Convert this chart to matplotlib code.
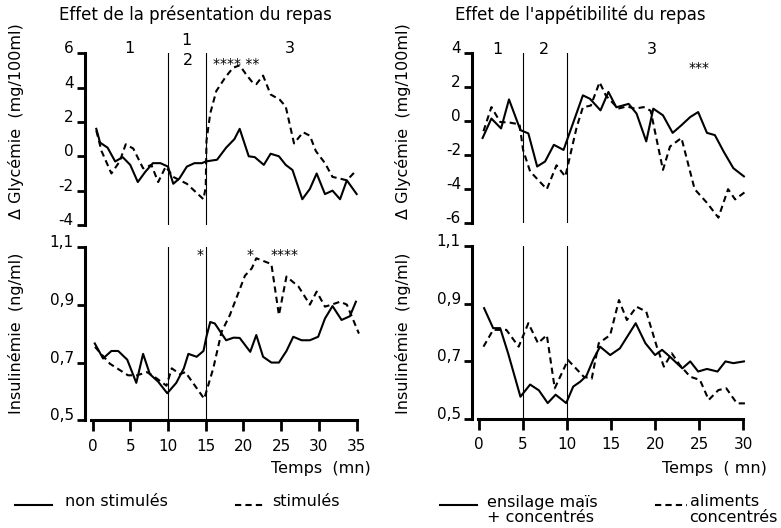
import matplotlib
matplotlib.use("Agg")
import matplotlib.pyplot as plt
from matplotlib.lines import Line2D

plt.rcParams['font.family'] = ['DejaVu Sans']

# ---- effet de la presentation du repas : glycemie ----
t_gly_ns = [0.5, 1, 2, 3, 4, 5, 6, 7, 8, 9, 10, 10.7, 11.5, 12.5, 13.5, 14.5, 15,
            16.5, 17.7, 18.8, 19.5, 20.7, 21.5, 22.7, 23.6, 24.7, 25.6, 26.5,
            27.8, 28.8, 29.7, 30.8, 31.8, 32.8, 33.7, 35]
gly_ns = [1.6, 0.8, 0.5, -0.3, -0.05, -0.5, -1.5, -0.9, -0.4, -0.4, -0.6, -1.6, -1.3,
          -0.6, -0.4, -0.4, -0.3, -0.2, 0.5, 1.0, 1.6, 0.0, -0.05, -0.5, 0.15, 0.0,
          -0.5, -0.8, -2.5, -1.9, -1.0, -2.2, -2.0, -2.5, -1.4, -2.2]
t_gly_st = [0.5, 1.2, 2.5, 3.6, 4.4, 5.4, 6.7, 7.8, 8.7, 9.7, 10.7, 12.5, 14.7, 15.0,
            15.1, 15.6, 16.4, 17.6, 18.6, 19.5, 20.3, 21.2, 21.7, 22.6, 23.6, 24.8,
            25.6, 26.7, 27.9, 28.8, 29.6, 30.8, 31.8, 32.8, 33.7, 35]
gly_st = [1.5, 0.3, -1.0, -0.3, 0.7, 0.45, -0.7, -0.5, -1.5, -0.6, -1.2, -1.6, -2.5,
          -1.8, 0.9, 2.5, 3.8, 4.6, 5.15, 5.3, 4.8, 4.3, 4.2, 4.7, 3.6, 3.3, 2.9,
          0.75, 1.4, 1.2, 0.3, -0.4, -1.2, -1.3, -1.4, -0.8]

# ---- effet de la presentation du repas : insulinemie ----
t_ins_ns = [0.3, 1.4, 2.5, 3.4, 4.6, 5.8, 6.7, 7.6, 8.7, 9.9, 11.1, 12.1, 12.7, 13.8,
            14.7, 15.1, 15.6, 16.2, 17.7, 18.7, 19.5, 20.9, 21.7, 22.6, 23.7, 24.7,
            25.7, 26.6, 27.7, 28.8, 29.9, 30.8, 31.8, 33.0, 34.1, 34.9]
ins_ns = [0.766, 0.714, 0.74, 0.74, 0.71, 0.63, 0.73, 0.66, 0.634, 0.594, 0.63, 0.68,
          0.73, 0.72, 0.74, 0.79, 0.84, 0.835, 0.777, 0.786, 0.785, 0.737, 0.795,
          0.72, 0.70, 0.70, 0.74, 0.789, 0.777, 0.777, 0.789, 0.852, 0.895, 0.847,
          0.86, 0.91]
t_ins_st = [0.33, 2.3, 4.7, 5.9, 7.2, 8.0, 9.8, 10.5, 11.6, 12.3, 14.8, 16.0, 17.1,
            18.2, 20.2, 21.1, 21.7, 23.7, 24.7, 25.7, 27.3, 28.8, 29.7, 30.8, 31.7,
            32.8, 33.7, 35.3]
ins_st = [0.754, 0.696, 0.656, 0.656, 0.667, 0.655, 0.62, 0.68, 0.66, 0.667, 0.575,
          0.68, 0.806, 0.864, 1.0, 1.025, 1.06, 1.04, 0.864, 0.997, 0.962, 0.90,
          0.945, 0.893, 0.90, 0.91, 0.90, 0.80]

# ---- effet de l'appetibilite du repas : glycemie ----
t_gly_ens = [0.4, 1.4, 2.5, 3.4, 4.7, 5.6, 6.6, 7.5, 8.5, 9.6, 11.8, 12.6, 13.8, 14.7,
             15.6, 17.0, 17.9, 19.0, 19.8, 20.9, 22.0, 23.0, 24.0, 24.9, 25.9, 26.8,
             27.8, 28.9, 30.1]
gly_ens = [-1.0, 0.14, -0.44, 1.26, -0.54, -0.73, -2.67, -2.38, -1.4, -1.7, 1.5, 1.3,
           0.62, 1.7, 0.8, 1.0, 0.43, -1.2, 0.72, 0.33, -0.7, -0.25, 0.23, 0.52, -0.7,
           -0.83, -1.8, -2.77, -3.25]
t_gly_ali = [0.5, 1.4, 2.4, 3.5, 4.6, 5.0, 5.8, 7.7, 8.8, 9.8, 11.1, 11.8, 12.7, 13.7,
             14.4, 15.8, 16.8, 17.7, 18.7, 19.5, 20.9, 21.7, 23.0, 24.5, 25.9, 27.2,
             28.3, 29.1, 30.4]
gly_ali = [-0.6, 0.81, -0.06, -0.1, -0.2, -1.7, -2.96, -4.0, -2.6, -3.26, -0.35, 0.8,
           0.9, 2.27, 1.5, 0.72, 0.85, 0.72, 0.81, 0.6, -2.87, -1.5, -1.0, -4.0, -4.8,
           -5.67, -4.0, -4.6, -4.1]

# ---- effet de l'appetibilite du repas : insulinemie ----
t_ins_ens = [0.57, 1.6, 2.4, 3.3, 4.7, 5.8, 6.8, 7.8, 8.7, 9.9, 10.7, 11.5, 12.2, 13.0,
             13.75, 14.9, 16.0, 17.8, 18.9, 20.0, 20.8, 21.7, 23.1, 24.0, 24.9, 25.9,
             27.1, 28.0, 28.9, 30.1]
ins_ens = [0.884, 0.815, 0.815, 0.728, 0.578, 0.62, 0.60, 0.556, 0.585, 0.556, 0.613,
           0.63, 0.65, 0.708, 0.751, 0.722, 0.745, 0.832, 0.763, 0.722, 0.74, 0.716,
           0.676, 0.70, 0.665, 0.674, 0.665, 0.70, 0.694, 0.70]
t_ins_ali = [0.5, 1.6, 3.1, 4.5, 5.6, 6.7, 7.7, 8.6, 10.1, 11.9, 12.8, 13.6, 14.9,
             15.9, 16.8, 17.9, 19.0, 20.2, 21.0, 21.9, 22.8, 24.0, 25.1, 26.1, 27.2,
             28.1, 29.3, 30.6]
ins_ali = [0.751, 0.809, 0.809, 0.751, 0.832, 0.763, 0.791, 0.607, 0.705, 0.647, 0.64,
           0.763, 0.791, 0.912, 0.843, 0.889, 0.872, 0.751, 0.682, 0.728, 0.688,
           0.647, 0.636, 0.567, 0.601, 0.607, 0.555, 0.555]

left_xticks = [0, 5, 10, 15, 20, 25, 30, 35]
right_xticks = [0, 5, 10, 15, 20, 25, 30]
gly_left_ticks = [-4, -2, 0, 2, 4, 6]
gly_right_ticks = [-6, -4, -2, 0, 2, 4]
ins_ticks = [0.5, 0.7, 0.9, 1.1]
ins_labels = ['0,5', '0,7', '0,9', '1,1']

DASH = (0, (3, 2))
FS = 11       # tick labels
TFS = 11.5    # titles / axis labels / legend


def style_axis(ax, yticks, ylabels, xticks=None, xmax=None):
    for s in ['top', 'right']:
        ax.spines[s].set_visible(False)
    ax.spines['left'].set_linewidth(2.2)
    ax.spines['left'].set_bounds(yticks[0], yticks[-1])
    ax.set_yticks(yticks)
    ax.set_yticklabels(ylabels, fontsize=FS, va='baseline')
    ax.tick_params(axis='y', length=6, width=2, pad=2)
    if xticks is None:
        ax.spines['bottom'].set_visible(False)
        ax.set_xticks([])
    else:
        ax.spines['bottom'].set_linewidth(2.2)
        ax.spines['bottom'].set_bounds(-0.15, xmax)
        ax.set_xticks(xticks)
        ax.set_xticklabels([str(v) for v in xticks], fontsize=FS)
        ax.tick_params(axis='x', length=8, width=2, pad=5)


fig = plt.figure(figsize=(7.81, 5.28), dpi=100)

# left column
ax1 = fig.add_axes([0.1088, 0.5739, 0.3527, 0.3252])
ax2 = fig.add_axes([0.1088, 0.2036, 0.3527, 0.3292])
# right column
ax3 = fig.add_axes([0.6044, 0.5771, 0.356, 0.3231])
ax4 = fig.add_axes([0.6044, 0.2059, 0.356, 0.3288])

ax1.plot(t_gly_ns, gly_ns, color='black', lw=1.5)
ax1.plot(t_gly_st, gly_st, color='black', lw=1.5, linestyle=DASH)
ax1.set_xlim(-1.0, 35.5)
ax1.set_ylim(-4, 6)
style_axis(ax1, gly_left_ticks, [str(v) for v in gly_left_ticks])

ax2.plot(t_ins_ns, ins_ns, color='black', lw=1.5)
ax2.plot(t_ins_st, ins_st, color='black', lw=1.5, linestyle=DASH)
ax2.set_xlim(-1.0, 35.5)
ax2.set_ylim(0.5, 1.1)
style_axis(ax2, ins_ticks, ins_labels, left_xticks, 35)

ax3.plot(t_gly_ens, gly_ens, color='black', lw=1.5)
ax3.plot(t_gly_ali, gly_ali, color='black', lw=1.5, linestyle=DASH)
ax3.set_xlim(-0.8, 30.8)
ax3.set_ylim(-6, 4)
style_axis(ax3, gly_right_ticks, [str(v) for v in gly_right_ticks])

ax4.plot(t_ins_ens, ins_ens, color='black', lw=1.5)
ax4.plot(t_ins_ali, ins_ali, color='black', lw=1.5, linestyle=DASH)
ax4.set_xlim(-0.8, 30.8)
ax4.set_ylim(0.5, 1.1)
style_axis(ax4, ins_ticks, ins_labels, right_xticks, 30)

# period separators
for ax in (ax1, ax2):
    for xv in (10, 15):
        ax.axvline(xv, color='black', lw=0.8)
for ax in (ax3, ax4):
    for xv in (5, 10):
        ax.axvline(xv, color='black', lw=0.8)

# period numbers
ax1.text(4.9, 6.26, '1', ha='center', va='center', fontsize=TFS)
ax1.text(12.5, 6.74, '1', ha='center', va='center', fontsize=TFS)
ax1.text(12.6, 5.58, '2', ha='center', va='center', fontsize=TFS)
ax1.text(26.2, 6.26, '3', ha='center', va='center', fontsize=TFS)
ax3.text(2.1, 4.2, '1', ha='center', va='center', fontsize=TFS)
ax3.text(7.4, 4.2, '2', ha='center', va='center', fontsize=TFS)
ax3.text(19.6, 4.2, '3', ha='center', va='center', fontsize=TFS)

# significance stars
ax1.text(19.0, 5.35, '**** **', ha='center', va='center', fontsize=10)
ax2.text(14.2, 1.07, '*', ha='center', va='center', fontsize=10)
ax2.text(20.9, 1.07, '*', ha='center', va='center', fontsize=10)
ax2.text(25.5, 1.07, '****', ha='center', va='center', fontsize=10)
ax3.text(25.0, 3.1, '***', ha='center', va='center', fontsize=10)

# titles
fig.text(195 / 781, 1 - 15 / 528, 'Effet de la présentation du repas',
         ha='center', va='center', fontsize=TFS + 0.5)
fig.text(580 / 781, 1 - 15 / 528, "Effet de l'appétibilité du repas",
         ha='center', va='center', fontsize=TFS + 0.5)

# y labels
for xl in (16, 403):
    fig.text(xl / 781, 1 - 121 / 528, 'Δ Glycémie  (mg/100ml)', rotation=90,
             ha='center', va='center', fontsize=TFS)
    fig.text(xl / 781, 1 - 333 / 528, 'Insulinémie  (ng/ml)', rotation=90,
             ha='center', va='center', fontsize=TFS)

# x labels
fig.text(371 / 781, 1 - 469 / 528, 'Temps  (mn)', ha='right', va='center', fontsize=TFS)
fig.text(767 / 781, 1 - 469 / 528, 'Temps  ( mn)', ha='right', va='center', fontsize=TFS)

# legends
def legend_line(x0, x1, y, ls):
    fig.add_artist(Line2D([x0 / 781, x1 / 781], [1 - y / 528, 1 - y / 528],
                          color='black', lw=1.5, linestyle=ls))

legend_line(15, 52, 505, '-')
fig.text(65 / 781, 1 - 502 / 528, 'non stimulés', ha='left', va='center', fontsize=TFS)
legend_line(235, 265, 505, DASH)
fig.text(272 / 781, 1 - 502 / 528, 'stimulés', ha='left', va='center', fontsize=TFS)

legend_line(440, 477, 505, '-')
fig.text(487 / 781, 1 - 502 / 528, 'ensilage maïs', ha='left', va='center', fontsize=TFS)
fig.text(487 / 781, 1 - 518 / 528, '+ concentrés', ha='left', va='center', fontsize=TFS)
legend_line(655, 687, 505, DASH)
fig.text(690 / 781, 1 - 502 / 528, 'aliments', ha='left', va='center', fontsize=TFS)
fig.text(777 / 781, 1 - 518 / 528, 'concentrés', ha='right', va='center', fontsize=TFS)

fig.savefig('out.png', dpi=100, facecolor='white')
